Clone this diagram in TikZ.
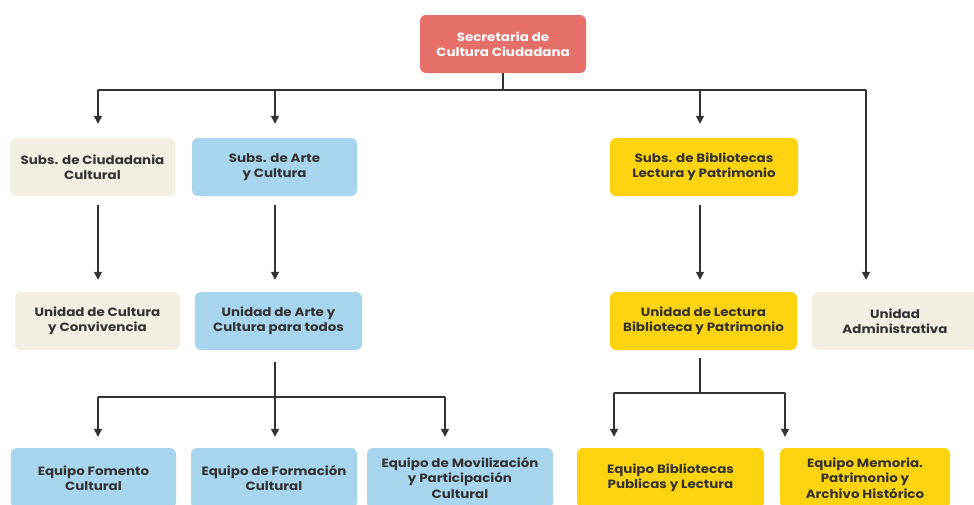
\documentclass[tikz,border=0pt]{standalone}
\usepackage{fontspec}
\setmainfont{Poppins}[FakeStretch=1.12]
\usetikzlibrary{arrows.meta}
\definecolor{redbox}{HTML}{E56F69}
\definecolor{beigebox}{HTML}{F3EFE2}
\definecolor{bluebox}{HTML}{A7D5EE}
\definecolor{yellowbox}{HTML}{FDD40F}
\definecolor{ink}{HTML}{333333}
\tikzset{
  box/.style={rectangle, rounded corners=6pt, align=center, text=ink,
    font=\fontsize{12}{15.5}\selectfont\bfseries, inner sep=0pt},
  beige/.style={box, fill=beigebox},
  blue/.style={box, fill=bluebox},
  yellow/.style={box, fill=yellowbox},
  conn/.style={draw=ink, line width=1.3pt},
  arr/.style={conn, -{Triangle[width=8pt,length=8pt]}},
}
\begin{document}
\begin{tikzpicture}[x=1pt,y=-1pt]
\useasboundingbox (0,0) rectangle (974,504);
% nodes
\node[box, fill=redbox, text=white, minimum width=166pt, minimum height=58pt] (top) at (503,44) {Secretaria de\\Cultura Ciudadana};
\node[beige, minimum width=165pt, minimum height=58pt] (sc) at (92.5,167) {Subs. de Ciudadania\\Cultural};
\node[blue, minimum width=165pt, minimum height=58pt] (sa) at (274.5,167) {Subs. de Arte\\y Cultura};
\node[yellow, minimum width=188pt, minimum height=58pt] (sb) at (704,167) {Subs. de Bibliotecas\\Lectura y Patrimonio};
\node[beige, minimum width=165pt, minimum height=58pt] (uc) at (97.5,321) {Unidad de Cultura\\y Convivencia};
\node[blue, minimum width=167pt, minimum height=58pt] (ua) at (278.5,321) {Unidad de Arte y\\Cultura para todos};
\node[yellow, minimum width=187pt, minimum height=58pt] (ul) at (703.5,321) {Unidad de Lectura\\Biblioteca y Patrimonio};
\node[beige, minimum width=166pt, minimum height=58pt] (uad) at (895,321) {Unidad\\Administrativa};
\node[blue, minimum width=165pt, minimum height=60pt] (ef) at (93.5,478) {Equipo Fomento\\Cultural};
\node[blue, minimum width=166pt, minimum height=60pt] (efo) at (274,478) {Equipo de Formación\\Cultural};
\node[blue, minimum width=186pt, minimum height=60pt] (em) at (460,478) {Equipo de Movilización\\y Participación\\Cultural};
\node[yellow, minimum width=187pt, minimum height=60pt] (eb) at (670.5,478) {Equipo Bibliotecas\\Publicas y Lectura};
\node[yellow, minimum width=170pt, minimum height=60pt] (emem) at (865,478) {Equipo Memoria.\\Patrimonio y\\Archivo Histórico};
% top bus
\coordinate (b1) at (98,90);
\coordinate (b2) at (275,90);
\coordinate (b3) at (700,90);
\coordinate (b4) at (866,90);
\draw[conn] (top.south) -- (top.south |- b1);
\draw[conn] (b1) -- (b4);
\draw[arr, shorten >=14pt] (b1) -- (b1 |- sc.north);
\draw[arr, shorten >=14pt] (b2) -- (b2 |- sa.north);
\draw[arr, shorten >=14pt] (b3) -- (b3 |- sb.north);
\draw[arr, shorten >=12pt] (b4) -- (b4 |- uad.north);
% row 2 to row 3
\draw[arr, shorten <=9pt, shorten >=12pt] (sc.south -| b1) -- (uc.north -| b1);
\draw[arr, shorten <=9pt, shorten >=12pt] (sa.south -| b2) -- (ua.north -| b2);
\draw[arr, shorten <=9pt, shorten >=12pt] (sb.south -| b3) -- (ul.north -| b3);
% arte bus
\coordinate (a1) at (98,397);
\coordinate (a2) at (275,397);
\coordinate (a3) at (445,397);
\draw[conn, shorten <=12pt] (ua.south -| a2) -- (a2);
\draw[conn] (a1) -- (a3);
\draw[arr, shorten >=11pt] (a1) -- (a1 |- ef.north);
\draw[arr, shorten >=11pt] (a2) -- (a2 |- efo.north);
\draw[arr, shorten >=11pt] (a3) -- (a3 |- em.north);
% lectura bus
\coordinate (l1) at (614,393);
\coordinate (l2) at (700,393);
\coordinate (l3) at (785,393);
\draw[conn, shorten <=8pt] (ul.south -| l2) -- (l2);
\draw[conn] (l1) -- (l3);
\draw[arr, shorten >=11pt] (l1) -- (l1 |- eb.north);
\draw[arr, shorten >=11pt] (l3) -- (l3 |- emem.north);
\end{tikzpicture}
\end{document}
